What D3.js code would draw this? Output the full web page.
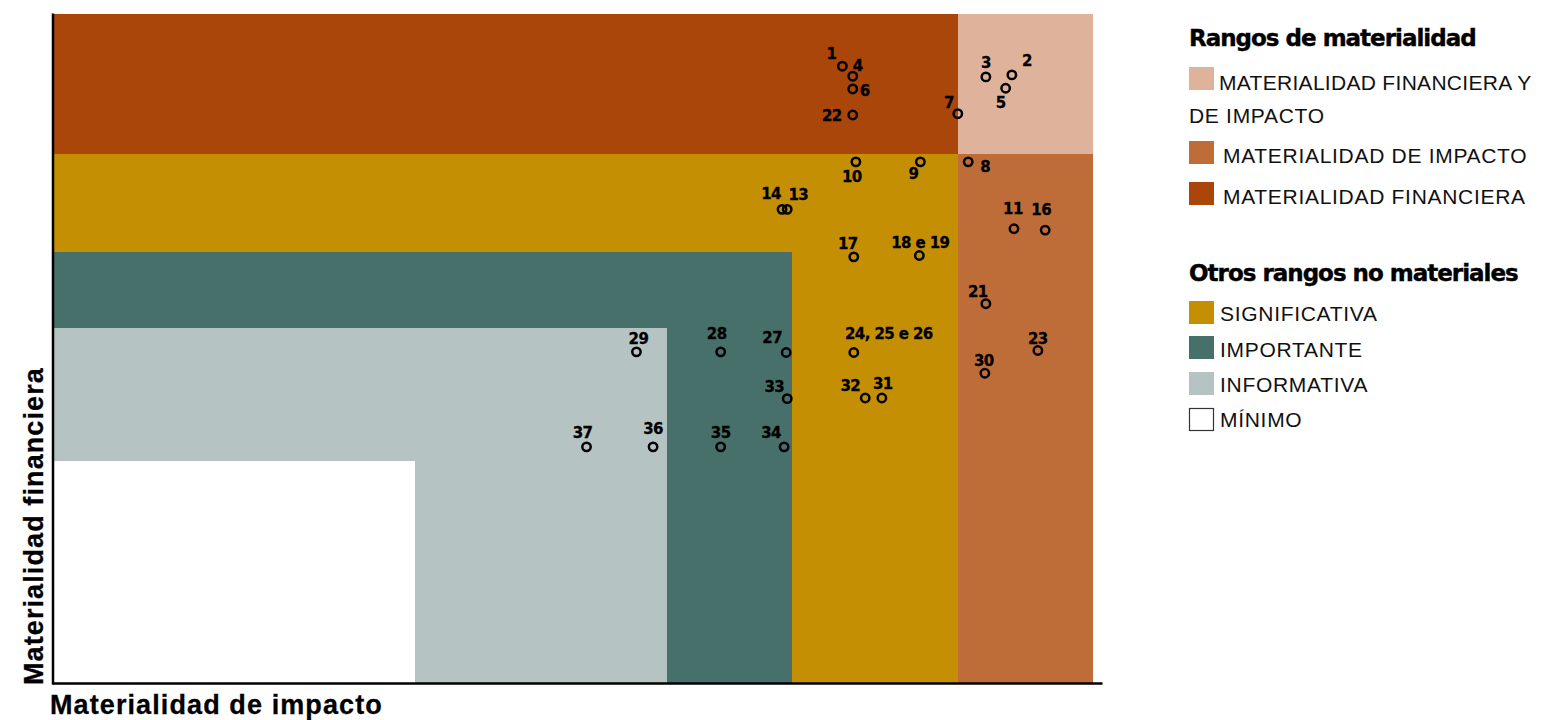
<!DOCTYPE html>
<html>
<head>
<meta charset="utf-8">
<script src="https://cdn.jsdelivr.net/npm/d3@7"></script>
<style>
  html, body { margin: 0; padding: 0; background: #fff; }
  svg { display: block; font-family: "Liberation Sans", Arial, sans-serif; }
</style>
</head>
<body>
<svg id="chart" width="1546" height="720"></svg>
<script>
// ---------- DATA ----------
// Zone thresholds (impact on X, financial on Y), 0–100 scale
const impactThresholds    = [34.8, 59.0, 71.1, 87.0, 100];
const financialThresholds = [33.2, 53.1, 64.4, 79.1, 100];

// Topics
const topicLabels = ["1","4","6","22","7","3","2","5","10","9","8","14","13","17","18 e 19","11","16",
                     "21","29","28","27","24, 25 e 26","23","30","33","32","31","37","36","35","34"];
const impactValues = [75.9,76.9,76.9,76.9,87.0,89.7,92.2,91.6,77.2,83.4,88.0,70.1,70.6,77.0,83.3,92.4,95.4,
                      89.7,56.1,64.2,70.5,77.0,94.7,89.6,70.6,78.1,79.7,51.3,57.7,64.2,70.3];
const financialValues = [92.2,90.7,88.8,84.9,85.1,90.6,90.9,88.9,77.9,77.9,77.9,70.8,70.8,63.7,63.9,67.9,67.7,
                         56.7,49.5,49.5,49.4,49.4,49.7,46.3,42.5,42.6,42.6,35.3,35.3,35.3,35.3];

// Legend
const legendGroup1Title = "Rangos de materialidad";
const legendGroup1 = ["MATERIALIDAD FINANCIERA Y", "MATERIALIDAD DE IMPACTO", "MATERIALIDAD FINANCIERA"];
const legendGroup2Title = "Otros rangos no materiales";
const legendGroup2 = ["SIGNIFICATIVA", "IMPORTANTE", "INFORMATIVA", "MÍNIMO"];

const xTitle = "Materialidad de impacto";
const yTitle = "Materialidad financiera";

// ---------- STYLE / LAYOUT ----------
const colors = {
  both: "#DFB39B",
  impact: "#BE6D39",
  financial: "#AA4609",
  significativa: "#C58F03",
  importante: "#47706A",
  informativa: "#B5C4C3",
  minimo: "#FFFFFF"
};
// label offsets (px) relative to each point
const labelDx = [-11, 5, 12,-21,-9, 0, 15,-5,-4,-7, 17,-11, 11,-6, 1,-1,-4,
                 -8, 2,-4,-14, 35, 0,-1,-13,-15, 1,-4, 0, 0,-13];
const labelDy = [-12,-10, 2, 1,-11,-14,-14, 15, 15, 12, 5,-15,-14,-13,-13,-20,-20,
                 -12,-13,-18,-15,-19,-12,-12,-12,-12,-14,-14,-18,-14,-14];

const svg = d3.select("#chart");
const x = d3.scaleLinear().domain([0, 100]).range([53, 1093]);
const y = d3.scaleLinear().domain([0, 100]).range([683, 14]);

// zones
const [ix1, ix2, ix3, ix4, ixMax] = impactThresholds;
const [fy1, fy2, fy3, fy4, fyMax] = financialThresholds;
const zones = [
  {x0: 0,   x1: ix4,   y0: fy4, y1: fyMax, c: colors.financial},
  {x0: ix4, x1: ixMax, y0: fy4, y1: fyMax, c: colors.both},
  {x0: ix4, x1: ixMax, y0: 0,   y1: fy4,   c: colors.impact},
  {x0: 0,   x1: ix4,   y0: 0,   y1: fy4,   c: colors.significativa},
  {x0: 0,   x1: ix3,   y0: 0,   y1: fy3,   c: colors.importante},
  {x0: 0,   x1: ix2,   y0: 0,   y1: fy2,   c: colors.informativa},
  {x0: 0,   x1: ix1,   y0: 0,   y1: fy1,   c: colors.minimo}
];
svg.append("g").selectAll("rect").data(zones).join("rect")
  .attr("x", d => x(d.x0))
  .attr("y", d => y(d.y1))
  .attr("width", d => x(d.x1) - x(d.x0))
  .attr("height", d => y(d.y0) - y(d.y1))
  .attr("fill", d => d.c)
  .attr("shape-rendering", "crispEdges");

// axes (no ticks)
const xAxisScale = x.copy().range([52, 1102]);
svg.append("g").attr("transform", `translate(0,${y(0)})`)
  .call(d3.axisBottom(xAxisScale).ticks(0).tickSizeOuter(0))
  .select(".domain").attr("stroke", "#000").attr("stroke-width", 2.5);
const yAxisScale = y.copy().range([684, 13]);
svg.append("g").attr("transform", `translate(${x(0) - 0.5},0)`)
  .call(d3.axisLeft(yAxisScale).ticks(0).tickSizeOuter(0))
  .select(".domain").attr("stroke", "#000").attr("stroke-width", 2.5);

// axis titles
const axisTitleStyle = s => s.style("font-family", "'Liberation Sans', Arial, sans-serif")
  .style("font-size", "27px").style("font-weight", "bold")
  .style("letter-spacing", "1.1px").attr("fill", "#000")
  .attr("stroke", "#000").attr("stroke-width", 0.3);
svg.append("text").text(xTitle)
  .attr("x", 50).attr("y", 714).call(axisTitleStyle);
svg.append("text").text(yTitle)
  .attr("transform", `translate(43,685) rotate(-90)`).call(axisTitleStyle);

// points
const pts = topicLabels.map((l, i) => ({label: l, xv: impactValues[i], yv: financialValues[i], dx: labelDx[i], dy: labelDy[i]}));
const pg = svg.append("g");
pg.selectAll("circle").data(pts).join("circle")
  .attr("cx", d => x(d.xv)).attr("cy", d => y(d.yv)).attr("r", 4.2)
  .attr("fill", "none").attr("stroke", "#000").attr("stroke-width", 2.5);
pg.selectAll("text").data(pts).join("text")
  .attr("x", d => x(d.xv) + d.dx).attr("y", d => y(d.yv) + d.dy)
  .attr("text-anchor", "middle").attr("dominant-baseline", "central")
  .style("font-family", "'DejaVu Sans', sans-serif")
  .style("font-size", "15px").style("font-weight", "bold")
  .style("letter-spacing", "-0.6px")
  .attr("fill", "#000").attr("stroke", "#000").attr("stroke-width", 0.3)
  .text(d => d.label);

// legend
const lg = svg.append("g");
const titleStyle = s => s.style("font-family", "'DejaVu Sans', sans-serif")
  .style("font-size", "23px").style("font-weight", "bold")
  .style("letter-spacing", "-1px").attr("fill", "#000")
  .attr("stroke", "#000").attr("stroke-width", 0.4);
lg.append("text").text(legendGroup1Title).attr("x", 1189).attr("y", 46).call(titleStyle);
lg.append("text").text(legendGroup2Title).attr("x", 1189).attr("y", 281).call(titleStyle);

const itemStyle = s => s.style("font-family", "'Liberation Sans', Arial, sans-serif")
  .style("font-size", "21px").style("letter-spacing", "0.7px").attr("fill", "#111");
const g1colors = [colors.both, colors.impact, colors.financial];
const g1sqY = [67, 141, 182];
const g1txt = [{x: 1219, y: 90}, {x: 1223, y: 163}, {x: 1223, y: 204}];
legendGroup1.forEach((t, i) => {
  lg.append("rect").attr("x", 1189).attr("y", g1sqY[i]).attr("width", 25).attr("height", 23).attr("fill", g1colors[i]);
  lg.append("text").text(t).attr("x", g1txt[i].x).attr("y", g1txt[i].y).call(itemStyle)
    .style("letter-spacing", i === 0 ? "0.3px" : "0.7px");
});
lg.append("text").text("DE IMPACTO").attr("x", 1189).attr("y", 123).call(itemStyle);

const g2colors = [colors.significativa, colors.importante, colors.informativa, colors.minimo];
const g2sqY = [301, 336, 372, 408];
const g2txtY = [321, 357, 392, 427];
legendGroup2.forEach((t, i) => {
  lg.append("rect").attr("x", i === 3 ? 1189.5 : 1189).attr("y", i === 3 ? g2sqY[i] + 0.5 : g2sqY[i])
    .attr("width", i === 3 ? 24 : 25).attr("height", i === 3 ? 22 : 23)
    .attr("fill", g2colors[i])
    .attr("stroke", i === 3 ? "#333" : "none").attr("stroke-width", 1.2);
  lg.append("text").text(t).attr("x", 1220).attr("y", g2txtY[i]).call(itemStyle);
});
</script>
</body>
</html>
